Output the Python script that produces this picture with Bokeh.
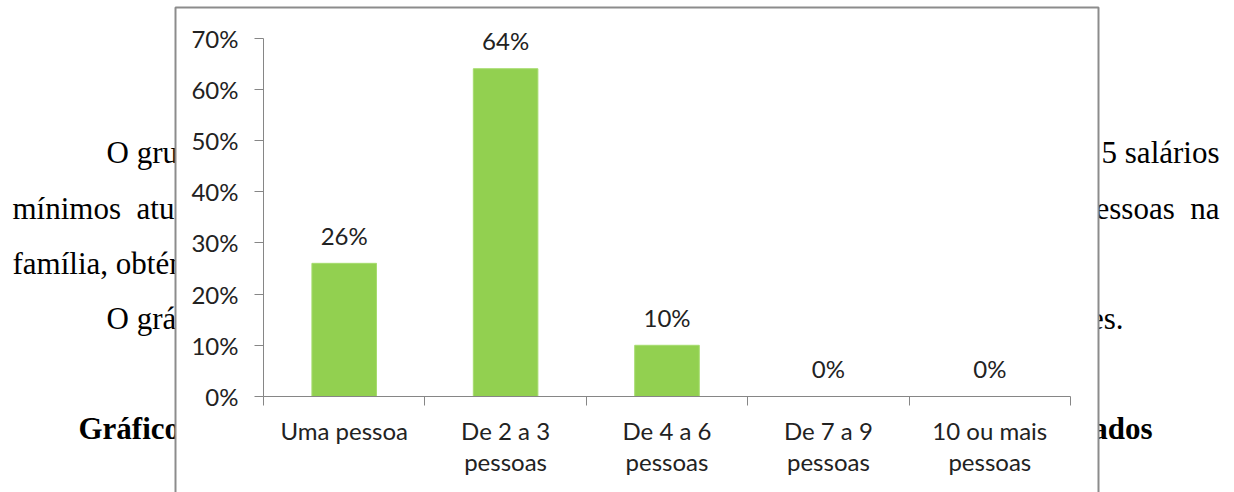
from bokeh.plotting import figure
from bokeh.models import (ColumnDataSource, FixedTicker, NumeralTickFormatter, Range1d)
from bokeh.core.properties import value
from bokeh.embed import file_html
from bokeh.resources import INLINE

# ---- data ----
categories = ["Uma pessoa", "De 2 a 3\npessoas", "De 4 a 6\npessoas",
              "De 7 a 9\npessoas", "10 ou mais\npessoas"]
values = [0.26, 0.64, 0.10, 0.0, 0.0]
y_ticks = [0.0, 0.1, 0.2, 0.3, 0.4, 0.5, 0.6, 0.7]

# surrounding document text fragments (left side / right side)
doc_left = ["O grupo", "mínimos\u00a0\u00a0atuais", "família,\u00a0obtém", "O gráfico"]
doc_right = ["5 salários", "pessoas\u00a0\u00a0na", "es."]
caption_left = "Gráfico"
caption_right = "ados"

# ---- layout constants (pixels) ----
W, H = 1234, 492
FL, FR, FT, FB = 263, 1070, 37.5, 396   # plot-area edges
XMAX, YMAX = 5.0, 0.7

def dx(px):
    return (px - FL) / (FR - FL) * XMAX

def dy(py):
    return (FB - py) / (FB - FT) * YMAX

p = figure(width=W, height=H, output_backend="svg", toolbar_location=None,
           x_range=Range1d(dx(0), dx(W)), y_range=Range1d(dy(H), dy(0)),
           min_border=0, min_border_left=0, min_border_right=0,
           min_border_top=0, min_border_bottom=0)
p.outline_line_color = None
p.xgrid.visible = False
p.ygrid.visible = False
p.background_fill_color = "white"
p.border_fill_color = "white"

SERIF = value("Liberation Serif")

# ---- background document text ----
left_src = ColumnDataSource(dict(x=[dx(v) for v in [106, 12, 12, 106]],
                                 y=[dy(v) for v in [152, 208, 263, 318]],
                                 t=doc_left))
p.text(x="x", y="y", text="t", source=left_src, text_font=SERIF,
       text_font_size="31px", text_color="black", text_align="left",
       text_baseline="alphabetic")
right_src = ColumnDataSource(dict(x=[dx(v) for v in [1219, 1219, 1123]],
                                  y=[dy(v) for v in [152, 208, 318]],
                                  t=doc_right))
p.text(x="x", y="y", text="t", source=right_src, text_font=SERIF,
       text_font_size="31px", text_color="black", text_align="right",
       text_baseline="alphabetic")
p.text(x=[dx(78)], y=[dy(428)], text=[caption_left], text_font=SERIF,
       text_font_size="31px", text_font_style="bold", text_color="black",
       text_align="left", text_baseline="alphabetic")
p.text(x=[dx(1152)], y=[dy(428)], text=[caption_right], text_font=SERIF,
       text_font_size="31px", text_font_style="bold", text_color="black",
       text_align="right", text_baseline="alphabetic")

# ---- chart area box (covers the document text behind it) ----
p.quad(left=[dx(175)], right=[dx(1098)], top=[dy(7)], bottom=[dy(560)],
       fill_color="white", line_color="#8c8c8c", line_width=2)

# ---- bars ----
centers = [i + 0.5 for i in range(len(categories))]
src = ColumnDataSource(dict(x=centers, top=values,
                            lbl=["%d%%" % round(v * 100) for v in values]))
p.vbar(x="x", top="top", width=0.4, source=src, fill_color="#92D050",
       line_color="#a6dc6e", line_width=1)

# ---- data labels ----
p.text(x="x", y="top", text="lbl", source=src, y_offset=-28,
       text_align="center", text_baseline="alphabetic",
       text_font=value("Lato"), text_font_size="24px", text_color="#222222")

# ---- axes (drawn at the plot-area edges, taking no panel space) ----
AX = "#868686"
xa = p.xaxis[0]
xa.fixed_location = 0
xa.bounds = (0, XMAX)
xa.ticker = FixedTicker(ticks=centers, minor_ticks=[0, 1, 2, 3, 4, 5])
xa.major_label_overrides = {c: lab for c, lab in zip(centers, categories)}
xa.major_tick_out = 0
xa.major_tick_in = 0
xa.minor_tick_out = 9
xa.minor_tick_in = 0
xa.minor_tick_line_color = AX
xa.axis_line_color = AX
xa.major_label_standoff = 10
xa.major_label_text_font = "Lato"
xa.major_label_text_font_size = "24px"
xa.major_label_text_color = "#222222"
xa.major_label_text_line_height = 1.08

ya = p.yaxis[0]
ya.fixed_location = 0
ya.bounds = (0, YMAX)
ya.ticker = FixedTicker(ticks=y_ticks, minor_ticks=[])
ya.formatter = NumeralTickFormatter(format="0%")
ya.major_tick_out = 9
ya.major_tick_in = 0
ya.minor_tick_out = 0
ya.minor_tick_in = 0
ya.major_tick_line_color = AX
ya.axis_line_color = AX
ya.major_label_standoff = 16
ya.major_label_text_font = "Lato"
ya.major_label_text_font_size = "24px"
ya.major_label_text_color = "#222222"

open("out.html", "w").write(file_html(p, INLINE))
